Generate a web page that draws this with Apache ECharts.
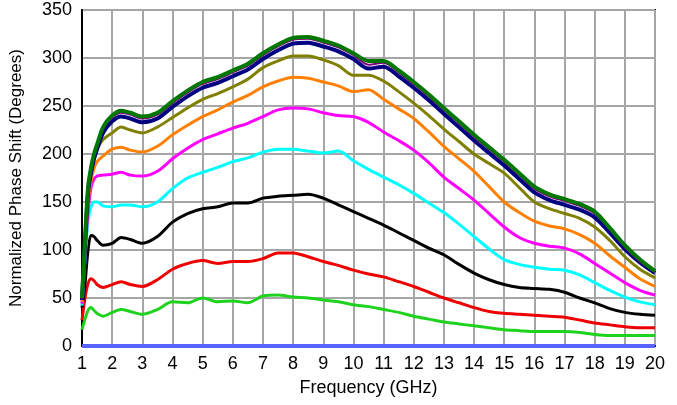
<!DOCTYPE html>
<html>
<head>
<meta charset="utf-8">
<script src="https://cdn.jsdelivr.net/npm/echarts@6/dist/echarts.min.js"></script>
<style>
  html, body { margin: 0; padding: 0; background: #fff; }
  #chart { width: 677px; height: 405px; }
</style>
</head>
<body>
<div id="chart"></div>
<script>
// frequency samples (GHz)
const freqs = [1, 1.1, 1.2, 1.3, 1.4, 1.5, 1.7, 2, 2.3, 2.6, 3, 3.5, 4, 4.5, 5, 5.5, 6, 6.5, 7, 7.5, 8, 8.5, 9, 9.5, 10, 10.5, 11, 11.5, 12, 12.5, 13, 13.5, 14, 14.5, 15, 15.5, 16, 16.5, 17, 17.5, 18, 18.5, 19, 19.5, 20];

// normalized phase shift (degrees), bottom curve to top curve
const greenVals = [17, 28, 37, 40, 37, 34, 31, 35, 38, 36, 33, 38, 46, 45, 50, 46, 47, 45, 52, 53, 51, 50, 48, 46, 43, 41, 38, 35, 31, 28, 25, 23, 21, 19, 17, 16, 15, 15, 15, 14, 12, 11, 11, 11, 11];
const redVals = [27, 50, 65, 70, 68, 64, 61, 64, 67, 64, 62, 69, 80, 86, 89, 86, 88, 88, 91, 97, 97, 93, 88, 84, 79, 75, 72, 67, 62, 56, 50, 45, 40, 36, 34, 33, 32, 31, 30, 27, 24, 22, 20, 19, 19];
const blackVals = [40, 65, 100, 115, 114, 110, 105, 107, 113, 111, 107, 114, 129, 138, 143, 145, 149, 149, 154, 156, 157, 158, 154, 147, 140, 133, 126, 118, 110, 102, 95, 85, 76, 69, 64, 61, 60, 59, 56, 50, 45, 39, 35, 33, 32];
const cyanVals = [42, 90, 130, 145, 150, 150, 146, 145, 147, 147, 145, 150, 164, 175, 181, 186, 192, 196, 202, 205, 205, 203, 201, 203, 193, 184, 176, 168, 159, 149, 139, 127, 114, 101, 90, 85, 82, 80, 79, 74, 66, 58, 51, 46, 43];
const magentaVals = [44, 95, 140, 165, 174, 177, 178, 179, 181, 178, 177, 182, 195, 206, 215, 221, 227, 232, 239, 246, 248, 247, 243, 240, 239, 233, 223, 214, 204, 191, 176, 164, 152, 138, 124, 113, 107, 104, 102, 96, 86, 76, 66, 58, 53];
const orangeVals = [46, 100, 150, 172, 185, 192, 198, 205, 207, 204, 202, 208, 220, 230, 239, 246, 254, 261, 270, 276, 280, 279, 275, 271, 265, 267, 257, 247, 237, 223, 208, 195, 182, 166, 150, 139, 130, 125, 122, 116, 107, 94, 82, 70, 62];
const oliveVals = [48, 105, 158, 180, 195, 205, 215, 222, 228, 225, 222, 228, 238, 248, 257, 263, 270, 278, 290, 297, 302, 302, 298, 292, 282, 282, 276, 265, 253, 240, 226, 213, 200, 190, 180, 165, 150, 143, 138, 133, 124, 110, 93, 80, 71];
const navyVals = [48, 106, 160, 181, 195, 205, 222, 234, 239, 237, 233, 237, 249, 260, 269, 274, 281, 288, 299, 308, 315, 316, 312, 307, 299, 289, 291, 281, 269, 256, 242, 228, 214, 201, 188, 174, 160, 152, 147, 142, 134, 118, 101, 87, 76];
const purpleVals = [49, 108, 163, 184, 198, 208, 226, 238, 243, 241, 237, 241, 253, 264, 273, 278, 285, 292, 303, 312, 319, 320, 316, 311, 303, 293, 295, 285, 273, 260, 246, 232, 218, 205, 192, 178, 164, 156, 151, 146, 138, 121, 103, 88, 77];
const darkGreenVals = [50, 110, 165, 186, 200, 210, 228, 240, 245, 243, 239, 243, 255, 266, 275, 280, 287, 294, 305, 314, 321, 322, 318, 313, 305, 297, 297, 287, 275, 262, 248, 234, 220, 207, 194, 180, 166, 158, 153, 148, 140, 123, 105, 90, 78];
const baseVals = [0, 0];
const baseFreqs = [1, 20];

const xTicks = [1, 20, 1];   // min, max, step
const yTicks = [0, 350, 50];

const FONT = "Liberation Sans";

function pairs(xs, ys) {
  return xs.map((x, i) => [x, ys[i]]);
}

function line(name, vals, color, width, xs) {
  return {
    name: name,
    type: "line",
    data: pairs(xs || freqs, vals),
    showSymbol: false,
    smooth: 0.3,
    lineStyle: { color: color, width: width },
    itemStyle: { color: color },
    emphasis: { disabled: true },
    animation: false
  };
}

const chart = echarts.init(document.getElementById("chart"));
chart.setOption({
  backgroundColor: "#fff",
  animation: false,
  grid: {
    left: 80, right: 22, top: 10, bottom: 59,
    show: true, borderColor: "#000", borderWidth: 2
  },
  xAxis: {
    type: "value",
    min: xTicks[0], max: xTicks[1], interval: xTicks[2],
    name: "Frequency (GHz)",
    nameLocation: "middle",
    nameGap: 33,
    nameTextStyle: { fontFamily: FONT, fontSize: 18, color: "#000" },
    axisLine: { lineStyle: { color: "#000", width: 2 } },
    axisTick: { show: false },
    axisLabel: { fontFamily: FONT, fontSize: 18, color: "#000", margin: 9 },
    splitLine: { lineStyle: { color: "#a6a6a6", width: 2 } }
  },
  yAxis: {
    type: "value",
    min: yTicks[0], max: yTicks[1], interval: yTicks[2],
    name: "Normalized Phase Shift (Degrees)",
    nameLocation: "middle",
    nameGap: 57,
    nameTextStyle: { fontFamily: FONT, fontSize: 17, color: "#000" },
    axisLine: { show: true, lineStyle: { color: "#000", width: 2 } },
    axisTick: { show: false },
    axisLabel: { fontFamily: FONT, fontSize: 18, color: "#000", margin: 10 },
    splitLine: { lineStyle: { color: "#a6a6a6", width: 2 } }
  },
  series: [
    line("base", baseVals, "#5a62ff", 4, baseFreqs),
    line("green", greenVals, "#1ed21e", 3),
    line("red", redVals, "#ee0000", 3),
    line("black", blackVals, "#000000", 3),
    line("cyan", cyanVals, "#00ffff", 3),
    line("magenta", magentaVals, "#ff00ff", 3),
    line("orange", orangeVals, "#ff8000", 3),
    line("olive", oliveVals, "#808000", 3),
    line("navy", navyVals, "#000080", 4),
    line("purple", purpleVals, "#800080", 2),
    line("darkgreen", darkGreenVals, "#007800", 4)
  ]
});
</script>
</body>
</html>
